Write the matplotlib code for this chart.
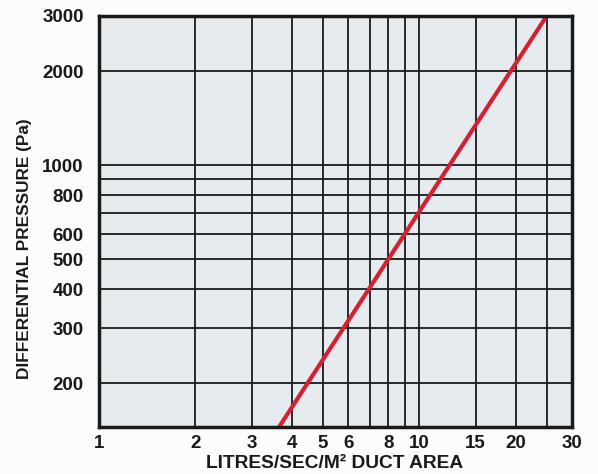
import matplotlib.pyplot as plt
from matplotlib.ticker import FixedLocator, FixedFormatter, NullLocator

plt.rcParams['font.family'] = ['Liberation Sans', 'DejaVu Sans']

# Data
flow_x = [3.65, 25]          # litres/sec/m2
pressure_y = [145, 3000]     # Pa

x_grid = [2, 3, 4, 5, 6, 7, 8, 9, 10, 15, 20, 25]
x_ticks = [1, 2, 3, 4, 5, 6, 8, 10, 15, 20, 30]
y_grid = [200, 300, 400, 500, 600, 700, 800, 900, 1000, 2000]
y_ticks = [200, 300, 400, 500, 600, 800, 1000, 2000, 3000]

fig = plt.figure(figsize=(5.98, 4.74), dpi=100)
fig.patch.set_facecolor('#fcfcfc')
ax = fig.add_axes([99/598, 1 - 427/474, 473/598, 411/474])
ax.set_facecolor('#e5ebee')
ax.set_xscale('log')
ax.set_yscale('log')
ax.set_xlim(1, 30)
ax.set_ylim(145, 3000)

for v in x_grid:
    ax.axvline(v, color='#1a1a1a', lw=1.3, zorder=1)
for v in y_grid:
    ax.axhline(v, color='#1a1a1a', lw=1.3, zorder=1)

ax.plot(flow_x, pressure_y, color='#d42030', lw=3, zorder=3, solid_capstyle='butt')

ax.xaxis.set_major_locator(FixedLocator(x_ticks))
ax.xaxis.set_major_formatter(FixedFormatter([str(v) for v in x_ticks]))
ax.xaxis.set_minor_locator(NullLocator())
ax.yaxis.set_major_locator(FixedLocator(y_ticks))
ax.yaxis.set_major_formatter(FixedFormatter([str(v) for v in y_ticks]))
ax.yaxis.set_minor_locator(NullLocator())

ax.tick_params(axis='x', length=0, pad=6, labelsize=13.5, colors='#1a1a1a')
ax.tick_params(axis='y', length=0, pad=11, labelsize=13.5, colors='#1a1a1a')
for lab in ax.get_xticklabels() + ax.get_yticklabels():
    lab.set_fontweight('bold')

for s in ax.spines.values():
    s.set_linewidth(2.5)
    s.set_color('#1a1a1a')
    s.set_zorder(4)

fig.text(335/598, 1 - 464/474, 'LITRES/SEC/M\u00b2 DUCT AREA', ha='center', va='center',
         fontsize=13.8, fontweight='bold', color='#1a1a1a')
fig.text(25/598, 1 - 249/474, 'DIFFERENTIAL PRESSURE (Pa)', ha='center', va='center',
         rotation=90, fontsize=12.4, fontweight='bold', color='#1a1a1a')

fig.savefig('out.png', dpi=100, facecolor=fig.get_facecolor())
